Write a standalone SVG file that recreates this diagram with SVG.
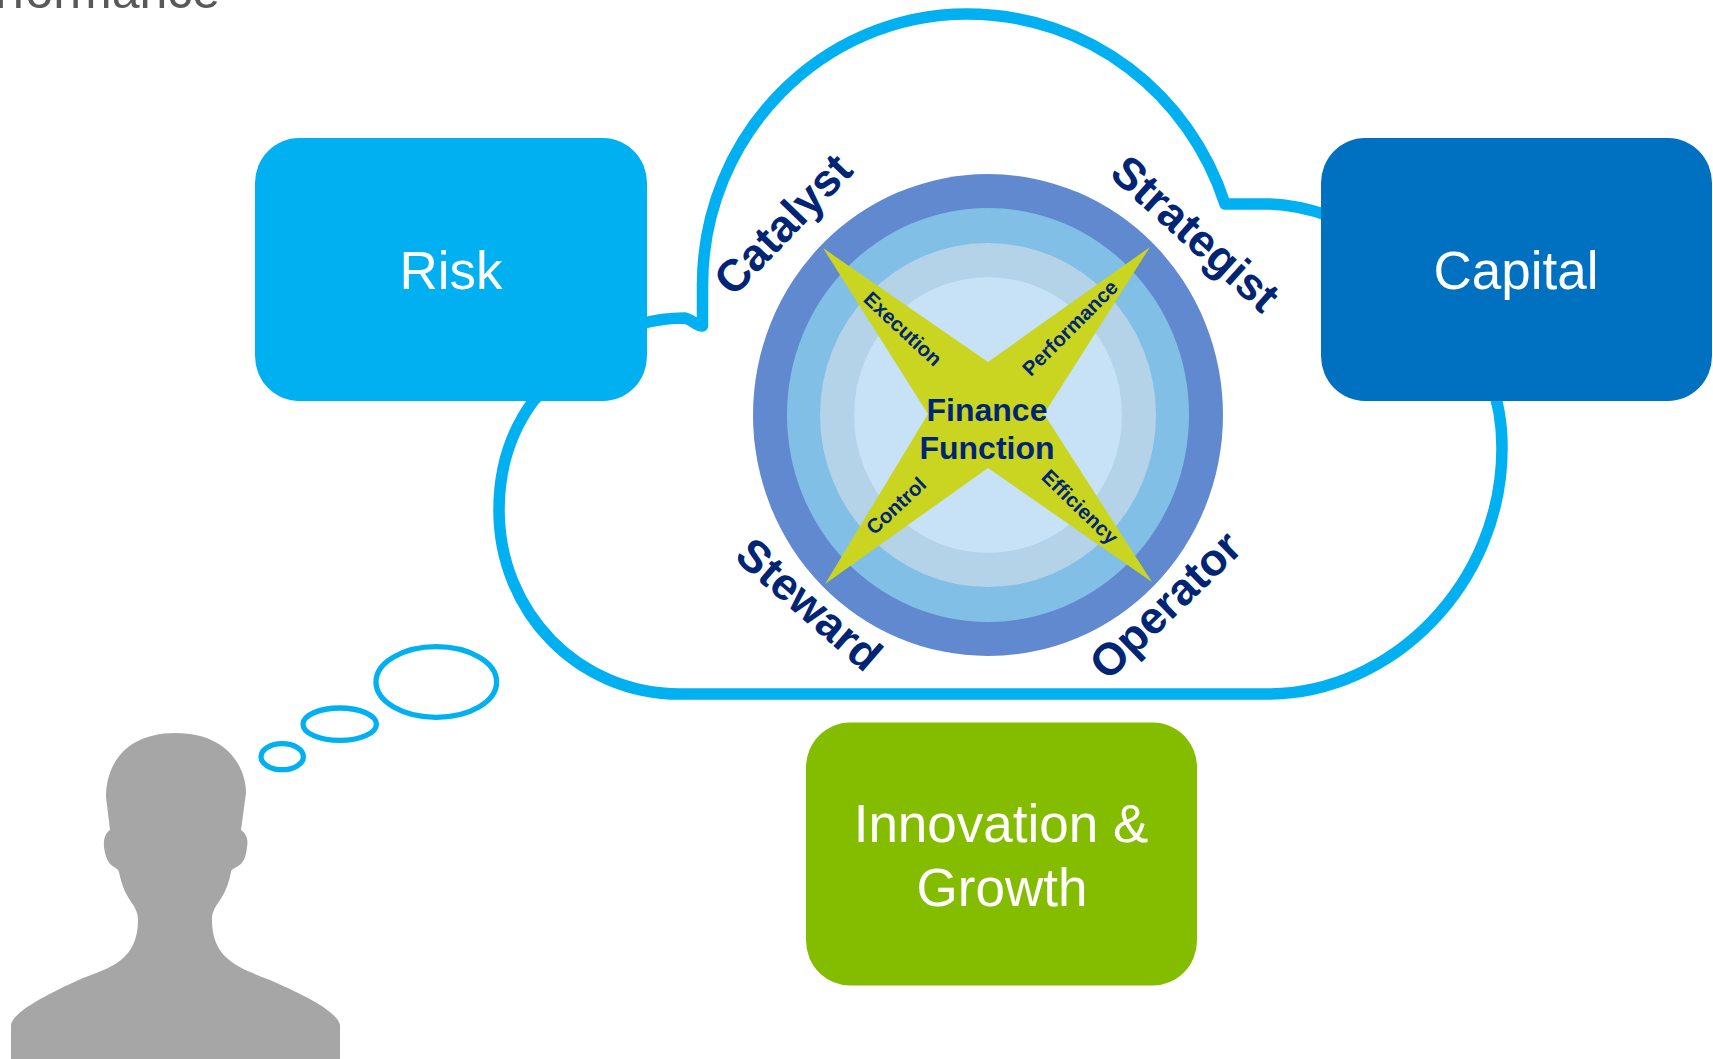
<svg xmlns="http://www.w3.org/2000/svg" width="1713" height="1059" viewBox="0 0 1713 1059">
<style>
text{font-family:"Liberation Sans",Arial,sans-serif}
.box{fill:#fff;font-size:53px;text-anchor:middle}
.role{fill:#002574;font-size:45px;font-weight:bold;text-anchor:middle}
.sub{fill:#002574;font-size:20.5px;font-weight:bold;text-anchor:middle}
.core{fill:#002574;font-size:32px;font-weight:bold;text-anchor:middle}
.line{fill:none;stroke:#00b0f0;stroke-width:11.5;stroke-linejoin:round}
.bub{fill:none;stroke:#00b0f0;stroke-width:5.3}
</style>
<rect width="1713" height="1059" fill="#fff"/>
<text x="-5" y="8" font-size="50" fill="#595959">rformance</text>
<g id="connectors">
<path id="cloud" class="line" d="M640,324 C655,320 670,318 684,318 C692,319 696,326 702.5,326 L702.5,285 C702.5,135 822,14 967,14 C1090,14 1190,95 1225,204 L1267,204 C1285,204 1303,207 1330,216 L1490,380 C1498,400 1502,425 1502,448 C1502,584 1392,694 1267,694 L680,694 C578,694 499,612 499,510 C499,470 510,432 534,400 L600,330 Z"/>
</g>
<g id="thought-bubbles">
<ellipse class="bub" cx="436.3" cy="682" rx="60.3" ry="35.3"/>
<ellipse class="bub" cx="339.7" cy="724.2" rx="36.7" ry="16.2"/>
<ellipse class="bub" cx="282.2" cy="756.7" rx="21.2" ry="13"/>
</g>
<g id="person">
<path fill="#a6a6a6" d="M11,1059 L11,1025 C13,1010 57,990 83,978 C110,968 138,960 138,920 C138,903 125,903 119,872 C117,865 107,870 104,847 C103,837 107,832 110,830 L106,797 C106,767 123,733 176,733 C227,733 246,767 246,793 L241,830 C244,832 249,837 247,847 C245,870 233,865 231,872 C225,903 212,903 212,920 C212,960 240,968 270,980 C297,992 337,1010 340,1025 L340,1059 Z"/>
</g>
<g id="risk">
<rect x="255" y="138" width="392" height="263" rx="44" ry="45" fill="#00b0f0"/>
<text class="box" x="451" y="289">Risk</text>
</g>
<g id="capital">
<rect x="1321" y="138" width="391" height="263" rx="44" ry="45" fill="#0070c0"/>
<text class="box" x="1516" y="289">Capital</text>
</g>
<g id="innovation">
<rect x="806" y="722.5" width="391" height="263" rx="44" ry="45" fill="#84bd00"/>
<text class="box" x="1001" y="842">Innovation &amp;</text>
<text class="box" x="1002" y="906">Growth</text>
</g>
<g id="finance-function">
<ellipse cx="988" cy="415" rx="235" ry="241" fill="#6089d0"/>
<ellipse cx="988" cy="415" rx="201" ry="207" fill="#82bfe6"/>
<ellipse cx="988" cy="415" rx="168" ry="172" fill="#b4d2e8"/>
<ellipse cx="988" cy="415" rx="134" ry="138" fill="#c7e1f7"/>
<polygon fill="#c9d521" points="823,248 988,362 1150,247 1044,414 1152,582 988,468 825,584 928,414"/>
<text class="core" x="987" y="421">Finance</text>
<text class="core" x="987" y="459">Function</text>
<text class="sub" transform="translate(898,334) rotate(43)">Execution</text>
<text class="sub" transform="translate(1075,333) rotate(-45)">Performance</text>
<text class="sub" transform="translate(901,511) rotate(-43)">Control</text>
<text class="sub" transform="translate(1075,512) rotate(44)">Efficiency</text>
</g>
<g id="catalyst"><text class="role" transform="translate(794,235) rotate(-46)">Catalyst</text></g>
<g id="strategist"><text class="role" transform="translate(1185,245) rotate(42)">Strategist</text></g>
<g id="steward"><text class="role" transform="translate(799,616) rotate(41)">Steward</text></g>
<g id="operator"><text class="role" transform="translate(1176,616) rotate(-44)">Operator</text></g>
</svg>
